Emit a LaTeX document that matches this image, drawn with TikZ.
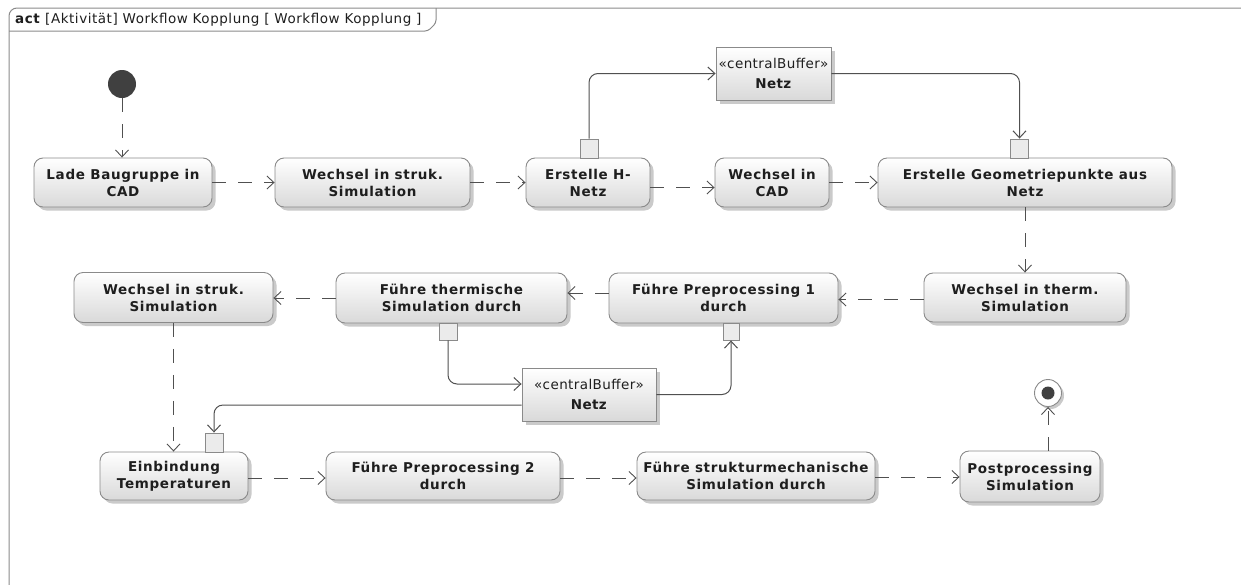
\documentclass[tikz,border=0pt]{standalone}
\usepackage{fontspec}
\setmainfont{DejaVu Sans}
\newfontfamily\actfont[LetterSpace=5]{DejaVu Sans}
\newfontfamily\titlefont[LetterSpace=4]{DejaVu Sans}
\newfontfamily\buffont[LetterSpace=3]{DejaVu Sans}
\usetikzlibrary{arrows.meta,shadows}

\definecolor{linegray}{HTML}{8A8A8A}
\definecolor{wiregray}{HTML}{505050}
\definecolor{boxgray}{HTML}{D9D9D9}
\definecolor{inkgray}{HTML}{1E1E1E}

\begin{document}
\begin{tikzpicture}[x=1pt,y=-1pt,
  shade box/.style={top color=white, bottom color=boxgray,
    drop shadow={shadow xshift=3.5pt, shadow yshift=-3.5pt, fill=black!35, opacity=.6}},
  action/.style={shade box, draw=linegray, line width=0.9pt, rounded corners=9pt,
    font=\actfont\fontsize{13.5}{17}\selectfont\bfseries, text=inkgray, align=center,
    inner sep=0pt, minimum height=49pt},
  buffer/.style={shade box, draw=linegray, line width=0.9pt, align=center,
    font=\buffont\fontsize{13.5}{16}\selectfont, text=inkgray, inner sep=0pt, minimum height=53pt},
  pin/.style={draw=linegray, line width=0.9pt, fill=black!8, inner sep=0pt,
    minimum width=18pt, minimum height=19pt},
  ctrl/.style={draw=wiregray, line width=0.9pt, dash pattern=on 14pt off 12pt,
    -{Straight Barb[length=7pt,width=13pt]}},
  objflow/.style={draw=wiregray, line width=1pt, rounded corners=9pt,
    -{Straight Barb[length=7pt,width=13pt]}}
]
\useasboundingbox (0,0) rectangle (1241,584);
\clip (0,0) rectangle (1241,584);

% diagram frame with its name tab
\draw[linegray, line width=1pt, rounded corners=8pt] (9,592) |- (1252,8);
\draw[linegray, line width=1pt, rounded corners=3pt] (9,31) -- (428,31) -- (436,23) -- (436,8);
\node[anchor=west, font=\titlefont\fontsize{13.5}{16}\selectfont, text=inkgray, inner sep=0pt] (title) at (15,20)
  {\textbf{act} [Aktivität] Workflow Kopplung [ Workflow Kopplung ]};

% initial and final nodes
\node[circle, fill=black!75, minimum size=28pt, inner sep=0pt] (start) at (122,84) {};
\node[circle, draw=linegray, line width=0.9pt, fill=white, minimum size=27pt, inner sep=0pt,
  drop shadow={shadow xshift=2.5pt, shadow yshift=-2.5pt, fill=black!35, opacity=.6}] (end) at (1048,393) {};
\node[circle, fill=black!75, minimum size=13pt, inner sep=0pt] (endDot) at (end) {};

% actions, top row
\node[action, minimum width=178pt] (lade)    at (123,182.5)  {Lade Baugruppe in\\CAD};
\node[action, minimum width=195pt] (wstrukA) at (372.5,182.5) {Wechsel in struk.\\Simulation};
\node[action, minimum width=124pt] (hnetz)   at (588,182.5)  {Erstelle H-\\Netz};
\node[action, minimum width=114pt] (wcad)    at (772,182.5)  {Wechsel in\\CAD};
\node[action, minimum width=294pt] (geo)     at (1025,182.5) {Erstelle Geometriepunkte aus\\Netz};

% actions, middle row
\node[action, minimum width=202pt] (wtherm)  at (1025,297.5) {Wechsel in therm.\\Simulation};
\node[action, minimum width=229pt, minimum height=50pt] (pre1) at (723.5,298) {Führe Preprocessing 1\\durch};
\node[action, minimum width=231pt, minimum height=50pt] (therm) at (451.5,298) {Führe thermische\\Simulation durch};
\node[action, minimum width=199pt, minimum height=50pt] (wstrukB) at (173.5,297.5) {Wechsel in struk.\\Simulation};

% actions, bottom row
\node[action, minimum width=148pt, minimum height=48pt] (einb)  at (174,476)   {Einbindung\\Temperaturen};
\node[action, minimum width=234pt, minimum height=48pt] (pre2)  at (443,476)   {Führe Preprocessing 2\\durch};
\node[action, minimum width=238pt, minimum height=48pt] (struk) at (756,476)   {Führe strukturmechanische\\Simulation durch};
\node[action, minimum width=140pt, minimum height=51pt] (post)  at (1030,476.5) {Postprocessing\\Simulation};

% central buffers
\node[buffer, minimum width=115pt] (bufA) at (773.5,73.5) {«centralBuffer»\\[4pt]\textbf{Netz}};
\node[buffer, minimum width=134pt] (bufB) at (589,394.5) {«centralBuffer»\\[4pt]\textbf{Netz}};

% pins
\node[pin] (pinH)   at (589,148.5)   {};
\node[pin] (pinGeo) at (1019.5,148.5) {};
\node[pin, minimum height=17pt] (pinTh)  at (448,331.5)   {};
\node[pin, minimum width=16pt, minimum height=17pt] (pinPre) at (731,331.5) {};
\node[pin] (pinEin) at (214,442.5)   {};

% control flow (horizontal legs kept level with -|)
\draw[ctrl] (start.south) -- (start.south |- lade.north);
\draw[ctrl] (lade.east) -- (lade.east -| wstrukA.west);
\draw[ctrl] (wstrukA.east) -- (wstrukA.east -| hnetz.west);
\draw[ctrl] ([yshift=-5pt]hnetz.east) -- ([yshift=-5pt]hnetz.east -| wcad.west);
\draw[ctrl] (wcad.east) -- (wcad.east -| geo.west);
\draw[ctrl] (geo.south) -- (wtherm.north);
\draw[ctrl] ([yshift=-2pt]wtherm.west) -- ([yshift=-2pt]wtherm.west -| pre1.east);
\draw[ctrl] ([yshift=5pt]pre1.west) -- ([yshift=5pt]pre1.west -| therm.east);
\draw[ctrl] (therm.west) -- (therm.west -| wstrukB.east);
\draw[ctrl] (wstrukB.south) -- (wstrukB.south |- einb.north);
\draw[ctrl] ([yshift=-2pt]einb.east) -- ([yshift=-2pt]einb.east -| pre2.west);
\draw[ctrl] ([yshift=-2pt]pre2.east) -- ([yshift=-2pt]pre2.east -| struk.west);
\draw[ctrl] ([yshift=-1pt]struk.east) -- ([yshift=-1pt]struk.east -| post.west);
\draw[ctrl] (end |- post.north) -- (end.south);

% object flow through the buffers
\draw[objflow] (pinH.north) |- (bufA.west);
\draw[objflow] (bufA.east) -| (pinGeo.north);
\draw[objflow] (pinTh.south) |- ([yshift=10.5pt]bufB.west);
\draw[objflow] (bufB.east) -| (pinPre.south);
\draw[objflow] ([yshift=-10.5pt]bufB.west) -| (pinEin.north);
\end{tikzpicture}
\end{document}
